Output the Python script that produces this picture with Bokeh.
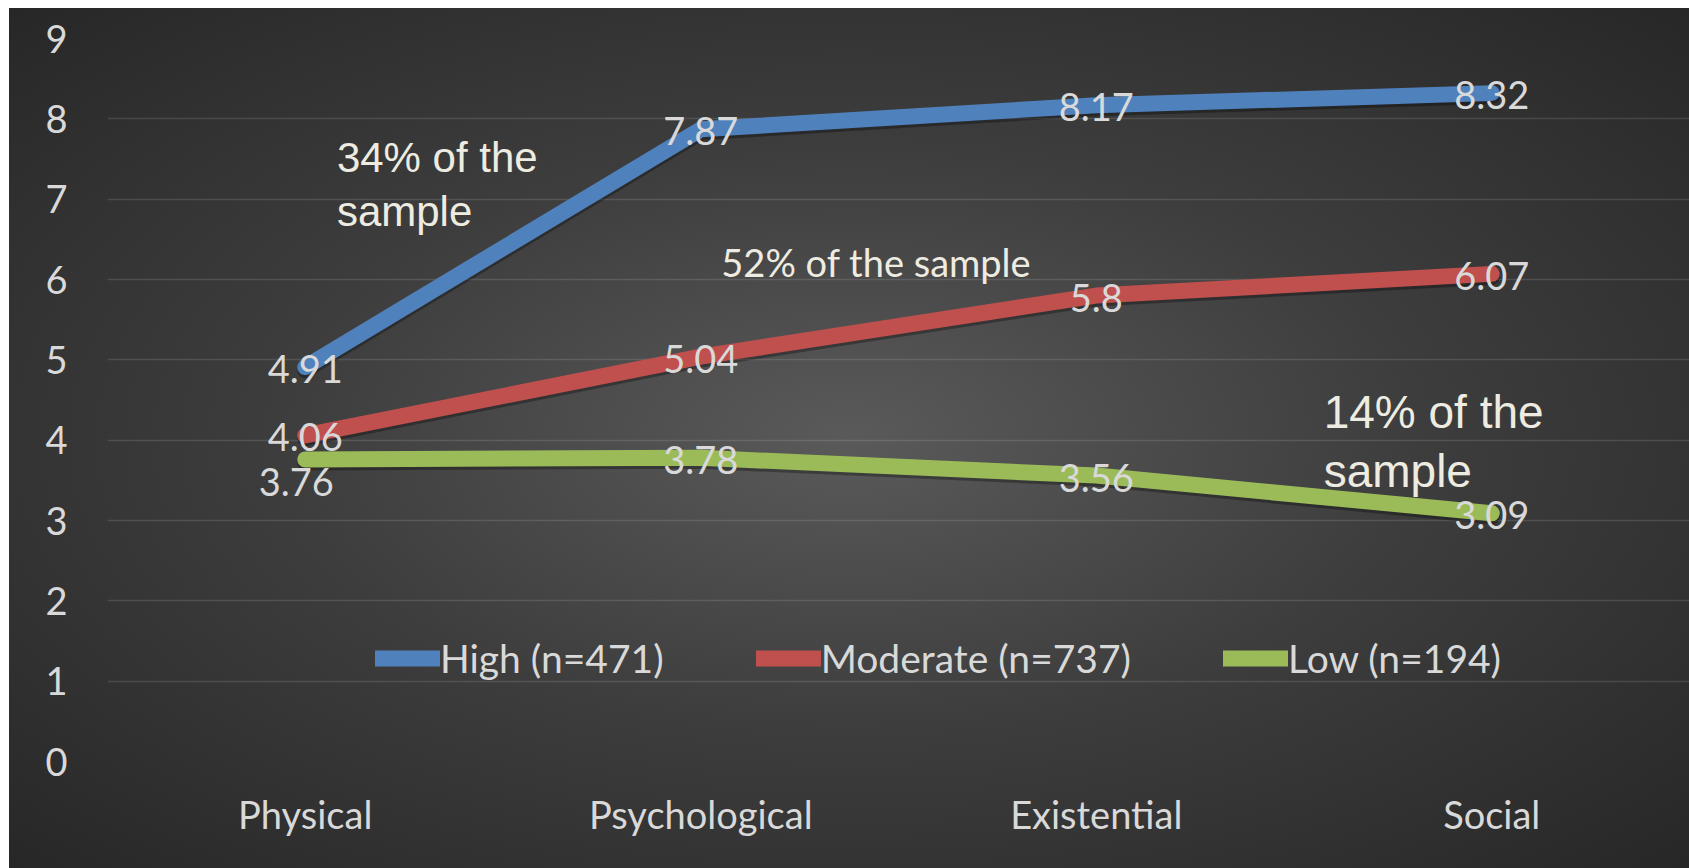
from bokeh.plotting import figure
from bokeh.models import Range1d, FixedTicker, Legend, LegendItem, ColumnDataSource
from bokeh.core.properties import value
from bokeh.embed import file_html
from bokeh.resources import INLINE

# ---- data ----
domains = ["Physical", "Psychological", "Existential", "Social"]
high = [4.91, 7.87, 8.17, 8.32]
moderate = [4.06, 5.04, 5.80, 6.07]
low = [3.76, 3.78, 3.56, 3.09]
series_names = ["High (n=471)", "Moderate (n=737)", "Low (n=194)"]
y_ticks = [0, 1, 2, 3, 4, 5, 6, 7, 8, 9]

colors = ["#4f81bd", "#c0504d", "#9bbb59"]
label_font = "Lato"
label_color = "#d9d9d9"
note_color = "#eeece1"

W, H = 1680, 860
LEFT, TOP, BOTTOM = 98, 30, 107

p = figure(width=W, height=H, output_backend="svg", toolbar_location=None,
           x_range=Range1d(0, len(domains)), y_range=Range1d(0, 9),
           min_border_left=LEFT, min_border_right=0,
           min_border_top=TOP, min_border_bottom=BOTTOM)
p.background_fill_color = None
p.border_fill_color = None
p.outline_line_color = None
p.styles = {
    "background": "radial-gradient(ellipse farthest-corner at 50% 50%, #5a5a5a 0%, #3d3d3d 48%, #272727 100%)",
    "margin-left": "9px",
    "margin-top": "8px",
}

xs = [i + 0.5 for i in range(len(domains))]

# axes
p.xaxis.ticker = FixedTicker(ticks=xs)
p.xaxis.major_label_overrides = {x: d for x, d in zip(xs, domains)}
p.yaxis.ticker = FixedTicker(ticks=y_ticks)
for ax in (p.xaxis, p.yaxis):
    ax.axis_line_color = None
    ax.major_tick_line_color = None
    ax.minor_tick_line_color = None
    ax.major_tick_out = 0
    ax.major_tick_in = 0
    ax.major_label_text_font = label_font
    ax.major_label_text_font_size = "38px"
    ax.major_label_text_color = label_color
p.yaxis.major_label_standoff = 40
p.xaxis.major_label_standoff = 29
p.xgrid.grid_line_color = None
p.ygrid.grid_line_color = "#ffffff"
p.ygrid.grid_line_alpha = 0.12
p.ygrid.grid_line_width = 1.5

# pixel scale of the y axis, used to offset the drop shadow of the lines
px_per_unit = (H - TOP - BOTTOM) / 9.0
shadow_dy = 3.0 / px_per_unit

series = [high, moderate, low]
renderers = []
for vals, col in zip(series, colors):
    p.line(xs, [v - shadow_dy for v in vals], line_width=16, line_color="black",
           line_alpha=0.3, line_cap="round", line_join="round")
for vals, col in zip(series, colors):
    r = p.line(xs, vals, line_width=16, line_color=col, line_cap="round", line_join="round")
    renderers.append(r)

# value labels, centred on each point
lx, ly, lt, xo, yo = [], [], [], [], []
for si, vals in enumerate(series):
    for i, v in enumerate(vals):
        lx.append(xs[i])
        ly.append(v)
        lt.append(f"{v:g}")
        # the first low-group label sits just under its point
        if si == 2 and i == 0:
            xo.append(-9)
            yo.append(23)
        else:
            xo.append(0)
            yo.append(2)
src = ColumnDataSource(dict(x=lx, y=ly, text=lt, xo=xo, yo=yo))
p.text(x="x", y="y", text="text", source=src, x_offset="xo", y_offset="yo",
       text_font=value(label_font), text_font_size="38px", text_color=label_color,
       text_align="center", text_baseline="middle")

# group-size notes
p.text(x=[0.58], y=[7.81], text=["34% of the\nsample"], text_font=value("Liberation Sans"),
       text_font_size="42px", text_color=note_color, text_align="left",
       text_baseline="top", text_line_height=1.15)
p.text(x=[1.552], y=[6.215], text=["52% of the sample"], text_font=value(label_font),
       text_font_size="38px", text_color=note_color, text_align="left",
       text_baseline="alphabetic")
p.text(x=[3.075], y=[4.67], text=["14% of the\nsample"], text_font=value("Liberation Sans"),
       text_font_size="46px", text_color=note_color, text_align="left",
       text_baseline="top", text_line_height=1.12)

legend = Legend(items=[LegendItem(label=n, renderers=[r]) for n, r in zip(series_names, renderers)],
                orientation="horizontal", location=(268, 80))
legend.background_fill_color = None
legend.border_line_color = None
legend.padding = 0
legend.margin = 0
legend.spacing = 92
legend.label_standoff = 0
legend.glyph_width = 65
legend.glyph_height = 40
legend.label_text_font = label_font
legend.label_text_font_size = "39px"
legend.label_text_color = label_color
p.add_layout(legend, "center")

html = file_html(p, INLINE)
open("out.html", "w").write(html)
